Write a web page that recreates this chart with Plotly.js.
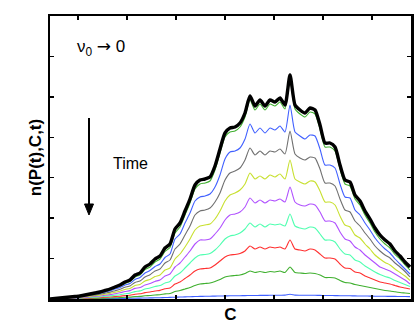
<!DOCTYPE html>
<html>
<head>
<meta charset="utf-8">
<script src="https://cdn.plot.ly/plotly-3.0.1.min.js"></script>
<style>
  html, body { margin: 0; padding: 0; background: #fff; }
  #plot { width: 415px; height: 332px; }
</style>
</head>
<body>
<div id="plot"></div>
<script>
// Datos: eje C (sin etiquetas) y n(P(t),C,t) para cada instante
const C = [0,1,2,3,4,5,6,7,8,9,10,11,12,13,14,15,16,17,18,19,20,21,22,23,24,25,26,27,28,29,30,31,32,33,34,35,36,37,38,39,40,41,42,43,44,45,46,47,48,49,50,51,52,53,54,55,56,57,58,59,60,61,62,63,64,65,66,67,68,69,70,71,72];

// de la curva mas temprana (abajo) a la final (negra)
const azulInf = [0,0,0,0,0.1,0.1,0.1,0.2,0.2,0.3, 0.3,0.4,0.4,0.5,0.5,0.6,0.7,0.8,0.9,1, 1.1,1.2,1.3,1.5,1.6,1.8,2,2.1,2.3,2.5, 2.6,2.7,2.8,2.9,3,3.1,3.2,3.2,3.3,3.4, 3.5,3.5,3.6,3.6,3.7,3.7,3.8,3.9,4.8,3.9, 3.8,3.8,3.7,3.7,3.6,3.5,3.5,3.4,3.3,3.2, 3.2,3.1,3,3,2.9,2.8,2.8,2.7,2.6,2.6, 2.5,2.5,2.4];
const verdeInf = [0,0.05,0.1,0.15,0.2,0.25,0.3,0.4,0.5,0.6, 0.7,0.85,1,1.2,1.4,1.7,1.9,2.4,2.6,3.2, 3.5,4,4.3,5.1,5.5,7.5,8.5,10,11.5,13.5, 15,15.5,16,17.5,19.5,22,23,23.5,24,25.5, 28,26.5,27.5,26.5,27.5,27,28,26.5,32,26.5, 26,25.5,26,25.5,24,21.5,21.5,21,18.5,16.5, 16,14.5,13.5,12.5,11.5,10.5,9.5,8.5,8,7.2, 6.5,6,5.5];
const rojo = [0,0.1,0.2,0.3,0.4,0.5,0.6,0.8,1,1.2, 1.4,1.7,2,2.4,2.8,3.4,3.8,4.8,5.2,6.4, 7,8,8.6,10.2,11,15,17,20.5,24,28, 30,30.5,31,34,38,42,44,44.5,45.5,48, 53,50,52,50,52,51,52,50,59,50, 49,48,50,49,45,41,41,40,35,31, 30.5,27,26,23,21,19,17,16,15,13.5, 12,11,10];
const turquesa = [0,0.15,0.3,0.45,0.6,0.75,0.9,1.2,1.5,1.8, 2.1,2.6,3.1,3.7,4.3,5.3,5.9,7.4,8.1,10, 11,12.5,13.5,16,17.5,23,26,31,36,41, 44,44.5,45.5,49,54,60,63,64,66,70, 76,72,75,72,75,74,75,73,85,73, 71,70,72,71,65,59,59,57,50,45, 44,39,37,33,30,27,24.5,22.5,21,18.5, 16.5,14.5,12.5];
const violeta = [0,0.2,0.4,0.6,0.8,1,1.3,1.7,2.1,2.6, 3,3.7,4.4,5.3,6.2,7.5,8.4,10.6,11.5,14, 15.4,17.6,19,23,25,32,36,42,48,55, 59,59,60,65,71,79,84,85,87,92, 101,96,99,96,99,98,100,97,112,97, 94,93,95,94,87,78,78,76,67,60, 58,52,49,44,40,36,32,30,28,25, 22,19,15];
const amarillo = [0,0.3,0.6,0.8,1.1,1.4,1.7,2.2,2.8,3.4, 3.9,4.7,5.6,6.7,7.8,9.5,10.6,13.4,14.6,18, 19.6,22.4,24,29,31,40,45,52,60,69, 73,74,75,80,88,98,104,106,109,115, 126,120,123,120,124,122,125,120,139,120, 117,115,118,117,108,97,97,94,83,74, 72,64,61,55,50,44,40,36.5,34,30, 26.5,23,18.5];
const gris = [0,0.3,0.7,1,1.4,1.7,2,2.8,3.5,4.1, 4.8,5.9,6.9,8.3,9.7,11.8,13.1,16.6,18,22, 24.3,28,30,36,39,50,55,64,73,84, 88,89,91,97,106,119,126,128,131,139, 151,144,148,144,148,147,150,145,168,145, 141,139,142,141,130,116,116,113,100,89, 87,78,73,66,60,53,48,44,41,36, 32,27.5,22];
const azulSup = [0,0.4,0.8,1.2,1.7,2.1,2.5,3.3,4.2,5, 5.8,7,8.3,10,11.5,14,15.5,19.5,21.5,26, 28.5,32.5,35,41.5,45,60,65,76,86,98, 102,103,105,112,124,140,147,148,151,160, 175,166,171,166,171,169,173,167,194,167, 163,160,164,163,150,134,134,131,115,102, 101,89,84,76,69,61,55,50,46,40, 35,30,25];
const verdeSup = [0,0.4,0.9,1.4,1.8,2.3,2.8,3.7,4.6,5.5, 6.5,7.8,9.2,11,13,15.5,17.5,22,24,29.5, 32,37,40,47.5,51.5,66,72,84,96,110, 115,116,118,129,146,162,167,168,172,182, 199,189,195,189,195,193,197,190,220,190, 185,182,187,185,170,152,152,148,130,115, 113,100,94,84,76,67,60,55,51,44.5, 40,34,29];
const negra = [0,0.5,1,1.5,2,2.5,3,4,5,6, 7,8.5,10,12,14,17,19,24,26,32, 35,40,43,51,55,70,76,88,100,114, 119,120,122,133,150,166,171,172,176,186, 203,193,199,193,199,197,201,194,224,194, 189,186,191,189,174,156,156,152,134,119, 117,104,98,88,80,71,64,59,55,48, 43,37,32];

const series = [
  { y: azulInf, color: '#4060ff' },
  { y: verdeInf, color: '#40b030' },
  { y: rojo, color: '#ff3030' },
  { y: turquesa, color: '#50ffb0' },
  { y: violeta, color: '#b050ff' },
  { y: amarillo, color: '#c8e030' },
  { y: gris, color: '#707070' },
  { y: azulSup, color: '#4060ff' },
  { y: verdeSup, color: '#40b030' }
];

const data = series.map(s => ({
  x: C,
  y: s.y,
  type: 'scatter',
  mode: 'lines',
  line: { color: s.color, width: 1.1, shape: 'spline', smoothing: 0.6 },
  hoverinfo: 'skip'
}));

// curva final, mas gruesa
data.push({
  x: C,
  y: negra,
  type: 'scatter',
  mode: 'lines',
  line: { color: '#000', width: 3.4, shape: 'spline', smoothing: 0.6 },
  hoverinfo: 'skip'
});

const fuente = 'Liberation Sans, Arial, sans-serif';

const layout = {
  width: 415,
  height: 332,
  margin: { l: 50, r: 4, t: 16, b: 33 },
  paper_bgcolor: '#fff',
  plot_bgcolor: '#fff',
  showlegend: false,
  font: { family: fuente, color: '#000' },
  xaxis: {
    range: [0, 72.2],
    showgrid: false,
    zeroline: false,
    showline: true,
    linecolor: '#000',
    linewidth: 2.5,
    mirror: 'ticks',
    ticks: 'inside',
    ticklen: 4,
    tickwidth: 1.5,
    tickcolor: '#000',
    tick0: 5.6,
    dtick: 9.8,
    showticklabels: false,
    title: { text: 'C', font: { family: fuente, size: 17, weight: 'bold' }, standoff: 8 }
  },
  yaxis: {
    range: [0, 283],
    showgrid: false,
    zeroline: false,
    showline: true,
    linecolor: '#000',
    linewidth: 2.5,
    mirror: 'ticks',
    ticks: 'inside',
    ticklen: 4,
    tickwidth: 1.5,
    tickcolor: '#000',
    tick0: 0,
    dtick: 40.43,
    showticklabels: false,
    title: { text: 'n(P(t),C,t)', font: { family: fuente, size: 17, weight: 'bold' }, standoff: 2 }
  },
  // flecha del tiempo: asta + punta
  shapes: [
    {
      type: 'line', xref: 'paper', yref: 'paper',
      x0: 0.108, y0: 0.6396, x1: 0.108, y1: 0.33,
      line: { color: '#000', width: 2 }
    },
    {
      type: 'path', xref: 'paper', yref: 'paper',
      path: 'M 0.0956 0.3357 L 0.1205 0.3357 L 0.108 0.2968 Z',
      fillcolor: '#000',
      line: { color: '#000', width: 1 }
    }
  ],
  annotations: [
    {
      xref: 'paper', yref: 'paper',
      x: 0.07, y: 0.887,
      xanchor: 'left', yanchor: 'middle',
      text: 'ν<sub>0</sub> <span style="font-family:DejaVu Sans">→</span> 0',
      showarrow: false,
      font: { family: fuente, size: 17, color: '#000' }
    },
    {
      xref: 'paper', yref: 'paper',
      x: 0.224, y: 0.48,
      xanchor: 'center', yanchor: 'middle',
      text: 'Time',
      showarrow: false,
      font: { family: fuente, size: 16, color: '#000' }
    }
  ]
};

Plotly.newPlot('plot', data, layout, { displayModeBar: false, staticPlot: true });
</script>
</body>
</html>
